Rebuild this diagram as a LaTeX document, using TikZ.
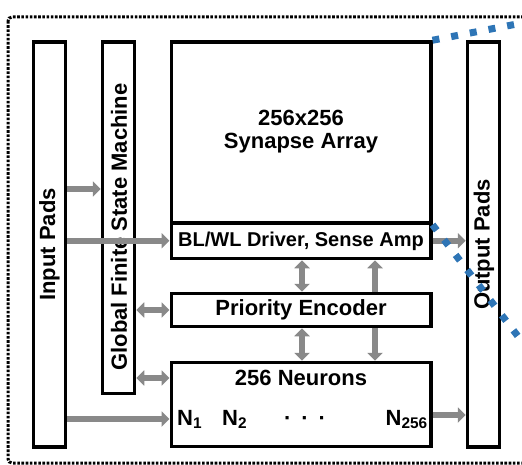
\documentclass[tikz,border=0pt]{standalone}
\usepackage{fontspec}
\setmainfont{Liberation Sans}
\usetikzlibrary{arrows.meta}
\definecolor{arrgray}{RGB}{137,137,137}
\definecolor{zoomblue}{RGB}{46,117,182}

\begin{document}
\begin{tikzpicture}[x=1pt, y=-1pt,
        >={Triangle[length=8pt, width=15pt]},
        box/.style={draw, line width=3.5pt, fill=white, inner sep=0pt},
        lbl/.style={inner sep=0pt, font=\fontsize{22}{23}\selectfont\bfseries, align=center},
        arr/.style={->, line width=6pt, draw=arrgray, fill=arrgray},
        darr/.style={<->, line width=6pt, draw=arrgray, fill=arrgray},
        frame/.style={line width=3pt, dash pattern=on 2.6pt off 1.6pt, rounded corners=4pt},
        zoomline/.style={draw=zoomblue, line width=7pt, dash pattern=on 7pt off 12pt}]

        \clip (0,0) rectangle (522,465);

        % outer block, open to the right
        \draw[frame] (8,17) rectangle (545,463);

        % blocks
        \node[box, minimum width=32pt, minimum height=405pt]   (inpads)  at (49.5, 244.5) {};
        \node[box, minimum width=32pt, minimum height=351.5pt] (gfsm)    at (118.5, 217.75) {};
        \node[box, minimum width=259.5pt, minimum height=181pt] (syn)    at (301, 132.5) {};
        \node[box, minimum width=259.5pt, minimum height=35.5pt] (drv)   at (301, 240.75) {};
        \node[box, minimum width=259.5pt, minimum height=33pt] (pe)      at (301, 310) {};
        \node[box, minimum width=259.5pt, minimum height=84pt] (neur)    at (301, 404.5) {};
        \node[box, minimum width=32pt, minimum height=405pt]   (outpads) at (483.5, 244.5) {};

        % texts
        \node[lbl, rotate=90] (inlbl)  at (49.5, 244.5) {Input Pads};
        \node[lbl, rotate=90] (gfsmlbl) at (119, 227) {Global Finite State Machine};
        \node[lbl, rotate=90] (outlbl) at (484, 244.5) {Output Pads};
        \node[lbl] (synlbl) at (301, 132) {256x256\\Synapse Array};
        \node[lbl, font=\fontsize{20}{22}\selectfont\bfseries] (drvlbl) at (301, 241) {BL/WL Driver, Sense Amp};
        \node[lbl] (pelbl)  at (301, 310) {Priority Encoder};
        \node[lbl] (ntitle) at (301, 378) {256 Neurons};
        \node[lbl, anchor=base west] (n1)   at (177, 425) {N\textsubscript{1}};
        \node[lbl, anchor=base west] (n2)   at (222, 425) {N\textsubscript{2}};
        \node[lbl, anchor=base] (ndots)     at (305, 425) {·\hspace{10pt}·\hspace{10pt}·};
        \node[lbl, anchor=base east] (n256) at (428, 425) {N\textsubscript{256}};

        \coordinate (colA) at (302, 0);
        \coordinate (colB) at (375, 0);
        \coordinate (rowA) at (0, 189);
        \coordinate (rowB) at (0, 419);
        \coordinate (rowC) at (0, 415);

        % connections
        \draw[arr]  (inpads.east |- rowA) -- (gfsm.west |- rowA);
        \draw[arr]  (inpads.east |- drv.west) -- (drv.west);
        \draw[arr]  (inpads.east |- rowB) -- (neur.west |- rowB);
        \draw[darr] (gfsm.east |- pe.west) -- (pe.west);
        \draw[darr] (gfsm.east |- ntitle) -- (neur.west |- ntitle);
        \draw[arr]  (drv.east) -- (outpads.west |- drv.east);
        \draw[arr]  (neur.east |- rowC) -- (outpads.west |- rowC);
        \draw[darr] (drv.south -| colA) -- (pe.north -| colA);
        \draw[darr] (pe.south -| colA) -- (neur.north -| colA);
        \draw[arr]  (pe.north -| colB) -- (drv.south -| colB);
        \draw[arr]  (pe.south -| colB) -- (neur.north -| colB);

        % zoom lines
        \coordinate (zoomtop) at (530, 21.5);
        \coordinate (zoombot) at (530, 352);
        \draw[zoomline] (syn.north east) -- (zoomtop);
        \draw[zoomline] (syn.south east) -- (zoombot);

    \end{tikzpicture}
\end{document}
